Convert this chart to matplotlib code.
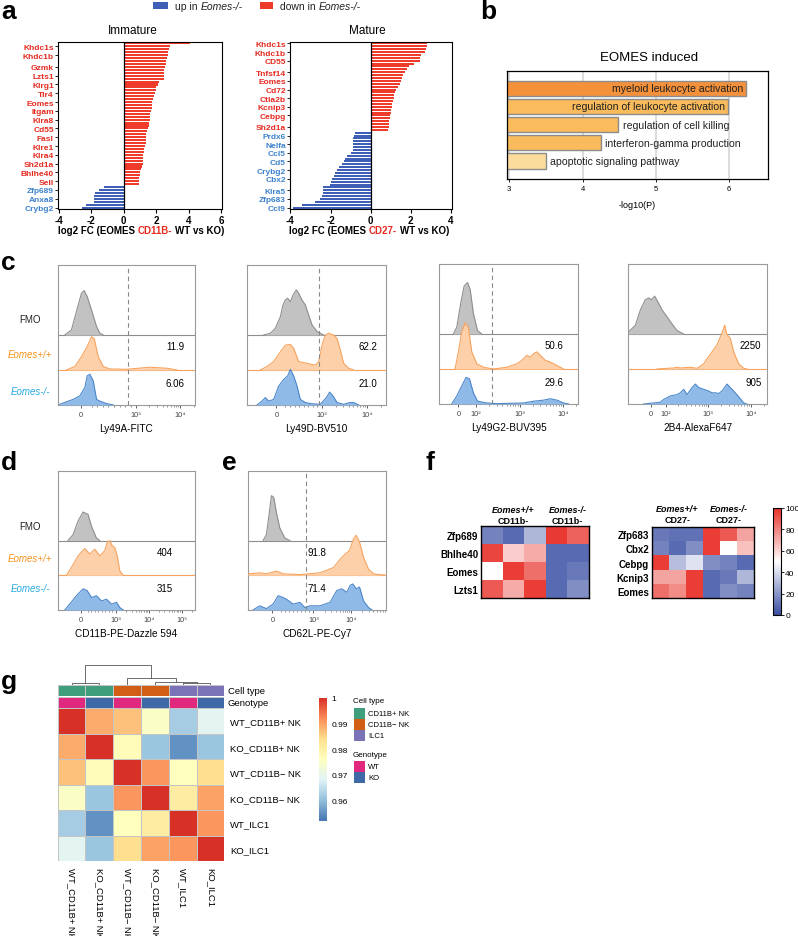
import numpy as np
import matplotlib
matplotlib.use('Agg')
import matplotlib.pyplot as plt
from matplotlib.colors import LinearSegmentedColormap, ListedColormap
from matplotlib.patches import Rectangle
from matplotlib.offsetbox import TextArea, HPacker, AnnotationBbox
from matplotlib.ticker import SymmetricalLogLocator, NullFormatter

plt.rcParams['font.family'] = ['Liberation Sans', 'DejaVu Sans']

# ---------------- panel a data ----------------
imm_red = [4.06, 2.87, 2.81, 2.75, 2.72, 2.67, 2.63, 2.58, 2.54, 2.5, 2.5, 2.48, 2.46, 2.15, 2.09,
           2.01, 1.97, 1.91, 1.85, 1.8, 1.76, 1.74, 1.72, 1.68, 1.64, 1.62, 1.6, 1.58, 1.54, 1.5,
           1.44, 1.39, 1.37, 1.37, 1.35, 1.31, 1.25, 1.23, 1.21, 1.21, 1.19, 1.19, 1.15, 1.09, 1.03,
           0.98, 0.96, 0.94, 0.92]
imm_blue = [-1.2, -1.55, -1.8, -1.82, -1.85, -1.85, -2.35, -2.6]
imm_red_labels = ['Khdc1s', 'Khdc1b', 'Gzmk', 'Lzts1', 'Klrg1', 'Tlr4', 'Eomes', 'Itgam', 'Klra8',
                  'Cd55', 'Fasl', 'Klre1', 'Klra4', 'Sh2d1a', 'Bhlhe40', 'Sell']
imm_red_pos = [1, 4, 8, 11, 14, 17, 20, 23, 26, 29, 32, 35, 38, 41, 44, 47]
imm_blue_labels = ['Zfp689', 'Anxa8', 'Crybg2']
imm_blue_pos = [50, 53, 56]

mat_red = [2.8, 2.78, 2.75, 2.7, 2.5, 2.47, 2.45, 2.15, 1.93, 1.79, 1.7, 1.6, 1.57, 1.5, 1.45,
           1.36, 1.27, 1.21, 1.17, 1.16, 1.1, 1.07, 1.04, 1.0, 1.0, 0.97, 0.94, 0.93, 0.91, 0.89, 0.86]
mat_blue = [-0.79, -0.82, -0.87, -0.87, -0.89, -0.9, -0.9, -0.97, -1.2, -1.26, -1.34, -1.44, -1.56,
            -1.67, -1.77, -1.84, -1.92, -1.98, -2.03, -2.36, -2.38, -2.39, -2.43, -2.51, -2.75, -3.4, -3.85]
mat_red_labels = ['Khdc1s', 'Khdc1b', 'CD55', 'Tnfsf14', 'Eomes', 'Cd72', 'Ctla2b', 'Kcnip3', 'Cebpg', 'Sh2d1a']
mat_red_pos = [0, 3, 6, 10, 13, 16, 19, 22, 25, 29]
mat_blue_labels = ['Prdx6', 'Nelfa', 'Ccl5', 'Cd5', 'Crybg2', 'Cbx2', 'Klra5', 'Zfp683', 'Ccl9']
mat_blue_pos = [32, 35, 38, 41, 44, 47, 51, 54, 57]

# ---------------- panel b data ----------------
go_terms = ['myeloid leukocyte activation', 'regulation of leukocyte activation',
            'regulation of cell killing', 'interferon-gamma production', 'apoptotic signaling pathway']
go_logp = [6.23, 5.99, 4.49, 4.25, 3.5]
go_colors = ['#F4913A', '#F9BB5B', '#F9BB5B', '#F9BB5B', '#FCDC9C']

# ---------------- panel c-e data (intensity, height) ----------------
ly49a_fmo_x = [-291, -170, -79, 12, 61, 115, 194, 285, 345, 406]
ly49a_fmo_h = [0, 0.14, 0.67, 1.19, 1.27, 1.10, 0.71, 0.24, 0.05, 0]
ly49a_wt_x = [-261, -109, 12, 115, 194, 242, 315, 406, 527, 830, 2080, 4980, 8400]
ly49a_wt_h = [0, 0.10, 0.38, 0.67, 0.95, 0.90, 0.38, 0.10, 0.03, 0.02, 0.08, 0.05, 0]
ly49a_ko_x = [-382, -139, -18, 73, 115, 164, 224, 285, 345, 467, 588]
ly49a_ko_h = [0.02, 0.16, 0.26, 0.50, 0.83, 0.88, 0.69, 0.16, 0.11, 0.04, 0]

ly49d_fmo_x = [-277, -131, -22, 88, 146, 197, 248, 307, 365, 438, 489, 562, 635, 708, 781, 891, 1089]
ly49d_fmo_h = [0, 0.05, 0.19, 0.52, 0.86, 1.00, 1.05, 0.95, 1.14, 1.29, 1.19, 1.00, 0.86, 0.57, 0.29, 0.10, 0]
ly49d_wt_x = [-350, -204, -58, 88, 197, 307, 380, 489, 672, 854, 927, 1000, 1186, 1406, 1816, 2153,
              2555, 3030, 3910, 5060]
ly49d_wt_h = [0, 0.10, 0.24, 0.52, 0.71, 0.73, 0.62, 0.24, 0.19, 0.14, 0.24, 0.71, 1.00, 1.05, 1.00,
              0.90, 0.57, 0.19, 0.05, 0]
ly49d_ko_x = [-423, -314, -241, -168, -58, 51, 161, 248, 307, 380, 453, 526, 635, 745, 964, 1248, 1480,
              1755, 2153, 3030, 4120, 5060, 6530]
ly49d_ko_h = [0, 0.11, 0.21, 0.11, 0.16, 0.54, 0.73, 0.83, 1.02, 0.83, 0.54, 0.16, 0.07, 0.04, 0.02,
              0.21, 0.37, 0.26, 0.07, 0.02, 0.07, 0.07, 0]

ly49g2_fmo_x = [-28, -9, 13, 32, 51, 66, 84, 107, 134]
ly49g2_fmo_h = [0, 0.20, 0.88, 1.37, 1.47, 1.27, 0.59, 0.10, 0]
ly49g2_wt_x = [-19, 0, 19, 38, 56, 75, 103, 147, 250, 507, 863, 1127, 1469, 1754, 2094, 2500, 2985,
               3890, 5070, 7230, 10300]
ly49g2_wt_h = [0, 0.49, 1.08, 1.32, 1.18, 0.49, 0.15, 0.05, 0, 0.05, 0.15, 0.25, 0.39, 0.34, 0.44,
               0.49, 0.39, 0.25, 0.20, 0.10, 0]
ly49g2_ko_x = [-38, -9, 19, 43, 62, 84, 107, 175, 298, 1230, 2094, 3565, 5070, 7230, 10300, 13430]
ly49g2_ko_h = [0, 0.23, 0.52, 0.76, 0.72, 0.32, 0.08, 0.03, 0.01, 0.03, 0.08, 0.11, 0.15, 0.11, 0.03, 0]

b24_fmo_x = [-151, -136, -102, -69, -36, -13, 4, 27, 53, 76, 108, 141, 185, 265]
b24_fmo_h = [0.05, 0.10, 0.25, 0.69, 0.98, 1.03, 0.98, 1.08, 0.88, 0.69, 0.49, 0.29, 0.10, 0]
b24_wt_x = [42, 155, 185, 221, 380, 545, 780, 933, 1223, 1603, 2099, 2421, 2748, 3289, 3936, 5158, 6760, 8090]
b24_wt_h = [0, 0.03, 0.05, 0.03, 0.05, 0.02, 0.15, 0.29, 0.49, 0.69, 1.03, 1.25, 0.98, 0.88, 0.49, 0.15, 0.02, 0]
b24_ko_x = [-47, 20, 64, 87, 129, 185, 221, 265, 318, 416, 498, 596, 780, 1021, 1223, 1464, 1754, 2099,
            2748, 3289, 4307, 5650, 6760, 8090]
b24_ko_h = [0, 0.03, 0.05, 0.13, 0.23, 0.27, 0.32, 0.42, 0.27, 0.47, 0.57, 0.47, 0.42, 0.37, 0.32, 0.32,
            0.30, 0.37, 0.57, 0.47, 0.32, 0.15, 0.03, 0]

cd11b_fmo_x = [-362, -219, -76, 67, 209, 305, 447, 543]
cd11b_fmo_h = [0, 0.17, 0.56, 0.82, 0.75, 0.41, 0.07, 0]
cd11b_wt_x = [-409, -267, -76, 114, 257, 400, 543, 685, 752, 828, 895, 971, 1098, 1324, 1673]
cd11b_wt_h = [0, 0.22, 0.56, 0.77, 0.61, 0.75, 0.56, 0.71, 0.95, 1.00, 0.85, 0.80, 0.56, 0.12, 0]
cd11b_ko_x = [-457, -314, -124, 67, 181, 305, 447, 590, 733, 876, 1048, 1324, 1673]
cd11b_ko_h = [0, 0.17, 0.41, 0.61, 0.56, 0.36, 0.41, 0.26, 0.31, 0.17, 0.22, 0.07, 0]

cd62l_fmo_x = [-229, -147, -82, -25, 33, 98, 180, 303, 426]
cd62l_fmo_h = [0, 0.17, 0.75, 1.29, 1.24, 0.80, 0.36, 0.07, 0]
cd62l_wt_x = [-598, -311, -147, 98, 262, 672, 1509, 3434, 5180, 7050, 9210, 11780, 13890, 17060, 21840,
              29720, 40460, 86500]
cd62l_wt_h = [0.04, 0.07, 0.04, 0.12, 0.04, 0.02, 0.07, 0.22, 0.46, 0.61, 0.71, 1.05, 1.15, 0.95, 0.51,
              0.17, 0.04, 0]
cd62l_ko_x = [-475, -311, -147, 16, 139, 262, 344, 508, 672, 794, 917, 1509, 2794, 4217, 5740, 7810, 9600,
              11310, 13890, 17060, 21840, 29720, 36500]
cd62l_ko_h = [0, 0.12, 0.04, 0.17, 0.41, 0.36, 0.31, 0.17, 0.22, 0.07, 0.12, 0.12, 0.22, 0.56, 0.61, 0.51,
              0.71, 0.75, 0.61, 0.66, 0.26, 0.07, 0]

flow_wt_numbers = ['11.9', '62.2', '50.6', '2250', '404', '91.8']
flow_ko_numbers = ['6.06', '21.0', '29.6', '905', '315', '71.4']
flow_gates = [848, 927, 229, None, None, 811]

# ---------------- panel f data ----------------
f_left_rows = ['Zfp689', 'Bhlhe40', 'Eomes', 'Lzts1']
f_left_vals = [[15, 8, 30, 98, 88],
               [95, 62, 70, 8, 8],
               [50, 97, 85, 8, 12],
               [90, 70, 97, 8, 18]]
f_right_rows = ['Zfp683', 'Cbx2', 'Cebpg', 'Kcnip3', 'Eomes']
f_right_vals = [[12, 10, 10, 97, 90, 72],
                [15, 8, 18, 97, 50, 65],
                [97, 32, 42, 18, 15, 8],
                [72, 72, 97, 8, 12, 30],
                [85, 78, 97, 8, 18, 15]]
f_cbar_ticks = [0, 20, 40, 60, 80, 100]

# ---------------- panel g data ----------------
g_names = ['WT_CD11B+ NK', 'KO_CD11B+ NK', 'WT_CD11B\u2212 NK', 'KO_CD11B\u2212 NK', 'WT_ILC1', 'KO_ILC1']
g_corr = [[1.000, 0.989, 0.987, 0.975, 0.962, 0.969],
          [0.989, 1.000, 0.977, 0.961, 0.955, 0.961],
          [0.987, 0.977, 1.000, 0.991, 0.976, 0.984],
          [0.975, 0.961, 0.991, 1.000, 0.981, 0.990],
          [0.962, 0.955, 0.976, 0.981, 1.000, 0.991],
          [0.969, 0.961, 0.984, 0.990, 0.991, 1.000]]
g_celltype = ['CD11B+ NK', 'CD11B+ NK', 'CD11B\u2212 NK', 'CD11B\u2212 NK', 'ILC1', 'ILC1']
g_genotype = ['WT', 'KO', 'WT', 'KO', 'WT', 'KO']
g_linkage = [[0, 1, 0.086], [4, 5, 0.086], [3, 7, 0.17], [2, 8, 0.34], [6, 9, 1.0]]
g_cbar_ticks = [0.96, 0.97, 0.98, 0.99, 1.0]
g_cbar_labels = ['0.96', '0.97', '0.98', '0.99', '1']

# ---------------- figure ----------------
W, H = 798, 937
fig = plt.figure(figsize=(W / 100, H / 100), dpi=100)


def box(l, t, r, b):
    return [l / W, 1 - b / H, (r - l) / W, (b - t) / H]


def ftext(x, y, s, **kw):
    return fig.text(x / W, 1 - y / H, s, **kw)


def rich(x, y, parts, size, weight='normal', halign=0.5, sep=2.0):
    areas = [TextArea(s, textprops=dict(color=c, fontsize=size, fontweight=weight, fontstyle=st))
             for s, c, st in parts]
    pack = HPacker(children=areas, align='baseline', pad=0, sep=sep)
    ab = AnnotationBbox(pack, (x / W, 1 - y / H), xycoords='figure fraction', frameon=False,
                        box_alignment=(halign, 0.5), pad=0)
    fig.add_artist(ab)


def frect(x0, y0, x1, y1, color, ec='none', lw=0):
    fig.add_artist(Rectangle((x0 / W, 1 - y1 / H), (x1 - x0) / W, (y1 - y0) / H,
                             transform=fig.transFigure, facecolor=color, edgecolor=ec, lw=lw))


RED_BAR, BLUE_BAR = '#EE3B2A', '#3E5FB5'
RED_TXT, BLUE_TXT = '#E52A20', '#3D82CC'

# panel letters
for letter, x, y in [('a', 1, 19), ('b', 480, 19), ('c', 1, 270), ('d', 1, 470),
                     ('e', 222, 470), ('f', 426, 470), ('g', 1, 689)]:
    ftext(x, y, letter, fontsize=19, fontweight='bold', va='baseline', ha='left')

# ---------------- panel a ----------------
frect(153, 3, 168, 10, BLUE_BAR)
rich(175, 7, [('up in', '#222222', 'normal'), ('Eomes-/-', '#222222', 'italic')], 7.5, halign=0)
frect(260, 3, 273, 10, RED_BAR)
rich(280, 7, [('down in', '#222222', 'normal'), ('Eomes-/-', '#222222', 'italic')], 7.5, halign=0)


def fc_panel(rect, red, blue, rlab, rpos, blab, bpos, xlim, xticks):
    ax = fig.add_axes(box(*rect))
    vals = red + blue
    n = len(vals)
    cols = [RED_BAR] * len(red) + [BLUE_BAR] * len(blue)
    ax.barh(np.arange(n), vals, height=0.7, color=cols, linewidth=0)
    ax.axvline(0, color='black', lw=0.9)
    ax.set_ylim(n - 0.5, -0.5)
    ax.set_xlim(xlim)
    ax.set_xticks(xticks)
    ax.set_xticklabels([str(t) for t in xticks], fontweight='bold', fontsize=7)
    ax.set_yticks(rpos + bpos)
    ax.set_yticklabels(rlab + blab, fontsize=6, fontweight='bold')
    for lab, c in zip(ax.get_yticklabels(), [RED_TXT] * len(rpos) + [BLUE_TXT] * len(bpos)):
        lab.set_color(c)
    ax.tick_params(axis='y', length=2, width=0.6, pad=1)
    ax.tick_params(axis='x', length=3, width=0.8, pad=1)
    for s in ax.spines.values():
        s.set_linewidth(0.8)
    return ax


fc_panel((58, 43, 222, 210), imm_red, imm_blue, imm_red_labels, imm_red_pos,
         imm_blue_labels, imm_blue_pos, (-4.05, 6.05), [-4, -2, 0, 2, 4, 6])
fc_panel((290, 43, 452, 210), mat_red, mat_blue, mat_red_labels, mat_red_pos,
         mat_blue_labels, mat_blue_pos, (-4.02, 4.05), [-4, -2, 0, 2, 4])
ftext(133, 31, 'Immature', fontsize=8.5, ha='center', va='center')
ftext(367, 31, 'Mature', fontsize=8.5, ha='center', va='center')
rich(141, 231, [('log2 FC (EOMES', 'black', 'normal'), ('CD11B-', RED_TXT, 'normal'),
                ('WT vs KO)', 'black', 'normal')], 7, weight='bold')
rich(369, 231, [('log2 FC (EOMES', 'black', 'normal'), ('CD27-', RED_TXT, 'normal'),
                ('WT vs KO)', 'black', 'normal')], 7, weight='bold')

# ---------------- panel b ----------------
axb = fig.add_axes(box(507, 72, 768, 180))
ypos = np.arange(len(go_terms))
axb.set_axisbelow(True)
axb.xaxis.grid(True, color='#D5D5D5', lw=1.2)
axb.barh(ypos, go_logp, height=0.84, color=go_colors, edgecolor='#8C8C8C', lw=1.0)
axb.set_xlim(2.97, 6.53)
axb.set_ylim(len(go_terms) - 0.01, -0.95)
for yy, v, t in zip(ypos, go_logp, go_terms):
    if v > 5.5:
        axb.text(v - 0.04, yy, t, ha='right', va='center', fontsize=7.6, color='#222222')
    else:
        axb.text(v + 0.06, yy, t, ha='left', va='center', fontsize=7.6, color='#222222')
axb.set_yticks([])
axb.set_xticks([3, 4, 5, 6])
axb.tick_params(axis='x', labelsize=5.5, length=2, width=0.6, pad=2.5)
for s in axb.spines.values():
    s.set_linewidth(0.9)
ftext(649, 58, 'EOMES induced', fontsize=9.5, ha='center', va='center')
ftext(637, 205, '-log10(P)', fontsize=6.5, ha='center', va='center')

# ---------------- panels c-e (flow histograms) ----------------
FMO_FC, FMO_EC = '#C2C2C2', '#8E8E8E'
WT_FC, WT_EC = '#FDD0A9', '#F7A35E'
KO_FC, KO_EC = '#8FBAE8', '#4C87CB'


def flow_panel(rect, L, s, xlim, ticks, ticklabels, xlabel, curves, gate, wt_num, ko_num,
               num_x, num_ha):
    ax = fig.add_axes(box(*rect))
    ax.set_xscale('symlog', linthresh=L, linscale=s)
    ax.set_xlim(xlim)
    ax.set_ylim(0, 4)
    (fx, fh), (wx, wh), (kx, kh) = curves
    specs = [(2, fx, fh, FMO_FC, FMO_EC), (1, wx, wh, WT_FC, WT_EC), (0, kx, kh, KO_FC, KO_EC)]
    for base, x, h, fc, ec in specs:
        if base > 0:
            ax.axhline(base, color=ec, lw=0.8, zorder=1)
        y = base + np.asarray(h)
        ax.fill_between(x, base, y, color=fc, lw=0, zorder=2 + (2 - base))
        ax.plot(x, y, color=ec, lw=0.8, zorder=2.5 + (2 - base))
    if gate is not None:
        ax.axvline(gate, color='#888888', lw=0.8, ls=(0, (4, 3)), zorder=10)
    ax.text(num_x, 0.42, wt_num, transform=ax.transAxes, ha=num_ha, va='center', fontsize=7)
    ax.text(num_x, 0.155, ko_num, transform=ax.transAxes, ha=num_ha, va='center', fontsize=7)
    ax.set_yticks([])
    ax.set_xticks(ticks)
    ax.set_xticklabels(ticklabels)
    ax.xaxis.set_minor_locator(SymmetricalLogLocator(linthresh=L, base=10, subs=np.arange(2, 10)))
    ax.xaxis.set_minor_formatter(NullFormatter())
    ax.tick_params(axis='x', which='major', length=2.5, width=0.6, labelsize=5.3, colors='#444444', pad=1.5)
    ax.tick_params(axis='x', which='minor', length=1.3, width=0.4, colors='#444444')
    for sp in ax.spines.values():
        sp.set_color('#9A9A9A')
        sp.set_linewidth(0.8)
    ax.set_xlabel(xlabel, fontsize=7.2, labelpad=4)
    return ax


flow_panel((58, 266, 195, 406), 1000, 1.125, (-412, 21400), [0, 1e3, 1e4], ['0', '10³', '10⁴'],
           'Ly49A-FITC', [(ly49a_fmo_x, ly49a_fmo_h), (ly49a_wt_x, ly49a_wt_h), (ly49a_ko_x, ly49a_ko_h)],
           flow_gates[0], flow_wt_numbers[0], flow_ko_numbers[0], 0.92, 'right')
flow_panel((247, 266, 386, 406), 1000, 0.913, (-642, 26400), [0, 1e3, 1e4], ['0', '10³', '10⁴'],
           'Ly49D-BV510', [(ly49d_fmo_x, ly49d_fmo_h), (ly49d_wt_x, ly49d_wt_h), (ly49d_ko_x, ly49d_ko_h)],
           flow_gates[1], flow_wt_numbers[1], flow_ko_numbers[1], 0.935, 'right')
flow_panel((439, 265, 578, 405), 100, 0.369, (-109, 22100), [0, 1e2, 1e3, 1e4],
           ['0', '10²', '10³', '10⁴'], 'Ly49G2-BUV395',
           [(ly49g2_fmo_x, ly49g2_fmo_h), (ly49g2_wt_x, ly49g2_wt_h), (ly49g2_ko_x, ly49g2_ko_h)],
           flow_gates[2], flow_wt_numbers[2], flow_ko_numbers[2], 0.897, 'right')
flow_panel((628, 265, 767, 405), 100, 0.315, (-152, 23800), [0, 1e2, 1e3, 1e4],
           ['0', '10²', '10³', '10⁴'], '2B4-AlexaF647',
           [(b24_fmo_x, b24_fmo_h), (b24_wt_x, b24_wt_h), (b24_ko_x, b24_ko_h)],
           flow_gates[3], flow_wt_numbers[3], flow_ko_numbers[3], 0.96, 'right')
flow_panel((58, 472, 195, 611), 1000, 0.96, (-648, 254700), [0, 1e3, 1e4, 1e5],
           ['0', '10³', '10⁴', '10⁵'], 'CD11B-PE-Dazzle 594',
           [(cd11b_fmo_x, cd11b_fmo_h), (cd11b_wt_x, cd11b_wt_h), (cd11b_ko_x, cd11b_ko_h)],
           flow_gates[4], flow_wt_numbers[4], flow_ko_numbers[4], 0.78, 'center')
flow_panel((248, 472, 386, 611), 1000, 0.98, (-598, 86500), [0, 1e3, 1e4],
           ['0', '10³', '10⁴'], 'CD62L-PE-Cy7',
           [(cd62l_fmo_x, cd62l_fmo_h), (cd62l_wt_x, cd62l_wt_h), (cd62l_ko_x, cd62l_ko_h)],
           flow_gates[5], flow_wt_numbers[5], flow_ko_numbers[5], 0.43, 'left')

for ys in [(320, 355, 392), (527, 559, 589)]:
    ftext(30, ys[0], 'FMO', fontsize=7, ha='center', va='center', color='#222222')
    ftext(30, ys[1], 'Eomes+/+', fontsize=7, ha='center', va='center', color='#F7941D', style='italic')
    ftext(30, ys[2], 'Eomes-/-', fontsize=7, ha='center', va='center', color='#27AAE1', style='italic')

# ---------------- panel f ----------------
bwr_cmap = LinearSegmentedColormap.from_list('bwr_f', ['#3A4FA3', '#FFFFFF', '#E8322A'])


def f_heat(rect, vals, rows, groups, hy):
    ax = fig.add_axes(box(*rect))
    ax.imshow(np.array(vals), cmap=bwr_cmap, vmin=0, vmax=100, aspect='auto', interpolation='nearest')
    ax.set_yticks(range(len(rows)))
    ax.set_yticklabels(rows, fontsize=7, fontweight='bold')
    ax.set_xticks([])
    ax.tick_params(axis='y', length=0, pad=2)
    for s in ax.spines.values():
        s.set_linewidth(1.0)
    tr = ax.get_xaxis_transform()
    for (l1, l2, cx) in groups:
        ax.text(cx, hy[0], l1, transform=tr, ha='center', va='center', fontsize=6.5,
                fontweight='bold', style='italic')
        ax.text(cx, hy[1], l2, transform=tr, ha='center', va='center', fontsize=6.5, fontweight='bold')
    return ax


f_heat((481, 527, 589, 599), f_left_vals, f_left_rows,
       [('Eomes+/+', 'CD11b-', 1.0), ('Eomes-/-', 'CD11b-', 3.5)], (1.236, 1.083))
f_heat((652, 528, 754, 599), f_right_vals, f_right_rows,
       [('Eomes+/+', 'CD27-', 1.0), ('Eomes-/-', 'CD27-', 4.0)], (1.254, 1.1))
caxf = fig.add_axes(box(773, 509, 781, 616))
smf = plt.cm.ScalarMappable(cmap=bwr_cmap, norm=plt.Normalize(0, 100))
cbf = fig.colorbar(smf, cax=caxf, ticks=f_cbar_ticks)
cbf.outline.set_linewidth(0.8)
caxf.tick_params(labelsize=6, length=2, width=0.6, pad=1)

# ---------------- panel g ----------------
rdylbu = LinearSegmentedColormap.from_list(
    'ph', ['#4575B4', '#91BFDB', '#E0F3F8', '#FFFFBF', '#FEE090', '#FC8D59', '#D73027'])
ct_colors = {'CD11B+ NK': '#3F9E7B', 'CD11B\u2212 NK': '#D25E16', 'ILC1': '#7B73B8'}
gt_colors = {'WT': '#E0287F', 'KO': '#3E68A6'}
n = len(g_names)

axg = fig.add_axes(box(57.7, 709.3, 224.3, 862))
axg.pcolormesh(np.array(g_corr), cmap=rdylbu, vmin=0.952, vmax=1.0, edgecolors='#C4C4C4', linewidth=0.6)
axg.set_xlim(0, n)
axg.set_ylim(n, 0)
axg.set_xticks(np.arange(n) + 0.5)
axg.set_xticklabels(g_names, rotation=270, fontsize=6.8)
axg.set_yticks(np.arange(n) + 0.5)
axg.set_yticklabels(g_names, fontsize=6.8)
axg.yaxis.tick_right()
axg.tick_params(length=0, pad=4)
for s in axg.spines.values():
    s.set_visible(False)

ct_keys = list(ct_colors.keys())
gt_keys = list(gt_colors.keys())
for (t, b), labs, cmapd, name in [((686, 696.8), g_celltype, ct_colors, 'Cell type'),
                                   ((698, 708.5), g_genotype, gt_colors, 'Genotype')]:
    axa = fig.add_axes(box(57.7, t, 224.3, b))
    keys = list(cmapd.keys())
    idx = np.array([[keys.index(v) for v in labs]])
    axa.pcolormesh(idx, cmap=ListedColormap([cmapd[k] for k in keys]), vmin=-0.5,
                   vmax=len(keys) - 0.5, edgecolors='#C4C4C4', linewidth=0.6)
    axa.set_xlim(0, n)
    axa.set_xticks([])
    axa.set_yticks([])
    for s in axa.spines.values():
        s.set_visible(False)
    ftext(228, (t + b) / 2, name, fontsize=6.8, ha='left', va='center')

# dendrogram
axd = fig.add_axes(box(57.7, 666, 224.3, 686))
pos = {i: i + 0.5 for i in range(n)}
hgt = {i: 0.0 for i in range(n)}
for k, (a, b, hh) in enumerate(g_linkage):
    xa, xb = pos[a], pos[b]
    axd.plot([xa, xa, xb, xb], [hgt[a], hh, hh, hgt[b]], color='#555555', lw=0.6)
    pos[n + k] = (xa + xb) / 2
    hgt[n + k] = hh
axd.set_xlim(0, n)
axd.set_ylim(0, 1.0)
axd.axis('off')

# colorbar g
caxg = fig.add_axes(box(319, 699, 327, 822))
smg = plt.cm.ScalarMappable(cmap=rdylbu, norm=plt.Normalize(0.952, 1.0))
cbg = fig.colorbar(smg, cax=caxg, ticks=g_cbar_ticks)
cbg.set_ticklabels(g_cbar_labels)
cbg.outline.set_visible(False)
caxg.tick_params(labelsize=6, length=0, pad=3)

# legends g
ftext(353, 702, 'Cell type', fontsize=5.8, ha='left', va='center')
for k, (y0, y1) in zip(ct_keys, [(709, 719.5), (720, 730.5), (731, 741.5)]):
    frect(354, y0, 365, y1, ct_colors[k])
    ftext(368, (y0 + y1) / 2, k, fontsize=5.5, ha='left', va='center')
ftext(353, 755.7, 'Genotype', fontsize=5.8, ha='left', va='center')
for k, (y0, y1) in zip(gt_keys, [(762, 772.5), (773, 783.5)]):
    frect(354, y0, 365, y1, gt_colors[k])
    ftext(368, (y0 + y1) / 2, k, fontsize=5.5, ha='left', va='center')

fig.savefig('out.png', dpi=100)
